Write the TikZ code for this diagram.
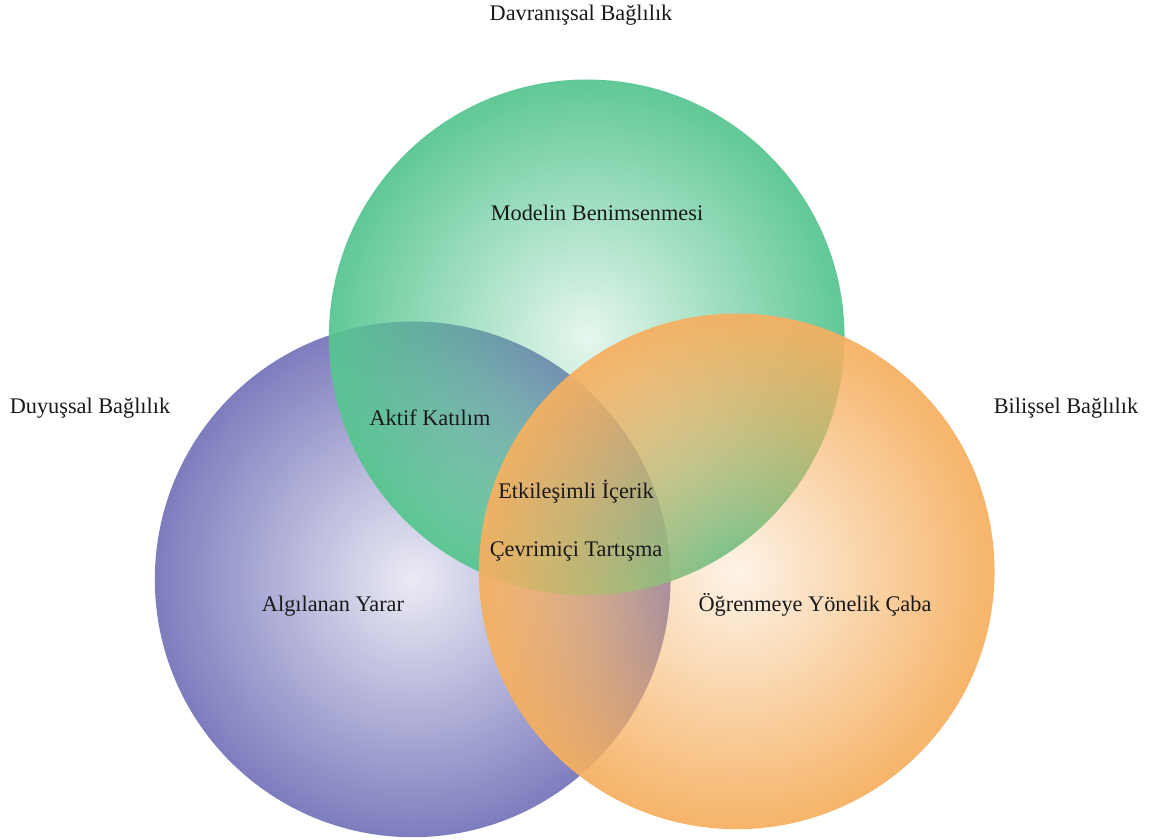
\documentclass[tikz,border=0pt]{standalone}
\usepackage{fontspec}
\setmainfont{Liberation Serif}
\usetikzlibrary{fadings}
\definecolor{duyring}{RGB}{118,118,187}
\definecolor{davring}{RGB}{87,197,144}
\definecolor{bilring}{RGB}{245,176,97}
\tikzfading[name=ringfade, inner color=transparent!85, outer color=transparent!5]
\begin{document}
\begin{tikzpicture}[x=1pt, y=-1pt, ring/.style={circle, minimum size=516pt, inner sep=0, fill=#1, path fading=ringfade}, lbl/.style={node font=\fontsize{22.3}{26}\selectfont, inner sep=0, text=black!90}]

\useasboundingbox (0,0) rectangle (1149,840);

\node [ring=duyring] (DUY) at (413,579) {};
\node [ring=davring] (DAV) at (587,337) {};
\node [ring=bilring] (BIL) at (737,571) {};

\node [lbl] (DAVT) at (581,15) {Davranışsal Bağlılık};
\node [lbl] (DUYT) at (90,408) {Duyuşsal Bağlılık};
\node [lbl] (BILT) at (1066,408) {Bilişsel Bağlılık};
\node [lbl] (MB) at (597,213) {Modelin Benimsenmesi};
\node [lbl] (AK) at (430,418) {Aktif Katılım};
\node [lbl] (EI) at (576,492) {Etkileşimli İçerik};
\node [lbl] (CT) at (576,551) {Çevrimiçi Tartışma};
\node [lbl] (AY) at (333,606) {Algılanan Yarar};
\node [lbl] (OYC) at (815,605) {Öğrenmeye Yönelik Çaba};

\end{tikzpicture}
\end{document}
